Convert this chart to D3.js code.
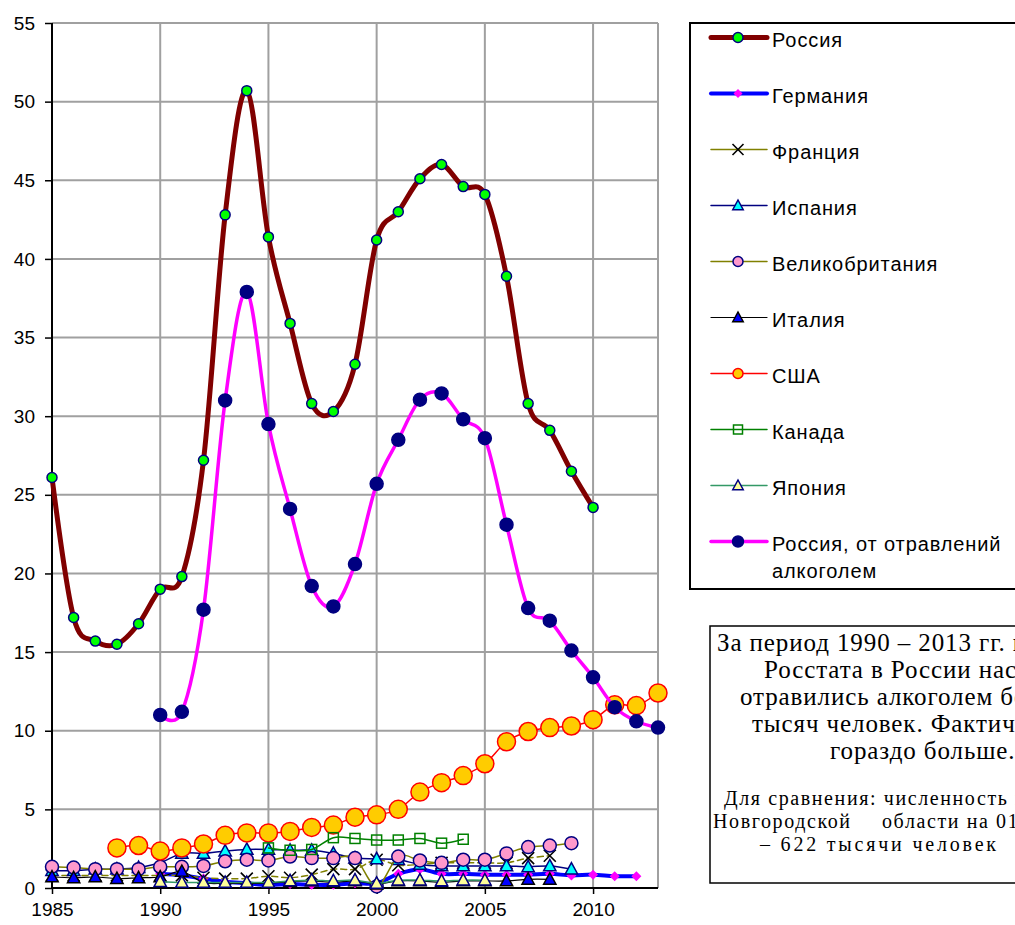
<!DOCTYPE html>
<html><head><meta charset="utf-8">
<script src="https://cdn.jsdelivr.net/npm/d3@7"></script>
<style>body{margin:0;background:#fff;overflow:hidden}</style>
</head><body><svg id="c" width="1015" height="925"></svg>
<script>
// ---------- DATA ----------
const years = [1985,1986,1987,1988,1989,1990,1991,1992,1993,1994,1995,1996,1997,1998,1999,2000,2001,2002,2003,2004,2005,2006,2007,2008,2009,2010,2011,2012,2013];
const xTickLabels = [1985,1990,1995,2000,2005,2010];
const yTickLabels = [0,5,10,15,20,25,30,35,40,45,50,55];
const seriesNames = ["Россия","Германия","Франция","Испания","Великобритания","Италия","США","Канада","Япония","Россия, от отравлений алкоголем"];

const russia  = [26.1,17.2,15.7,15.5,16.8,19.0,19.8,27.2,42.8,50.7,41.4,35.9,30.8,30.3,33.3,41.2,43.0,45.1,46.0,44.6,44.1,38.9,30.8,29.1,26.5,24.2,null,null,null];
const germany = [null,null,null,null,null,0.9,0.8,0.6,0.4,0.3,0.2,0.25,0.2,0.2,0.3,0.3,0.9,1.2,0.9,0.9,0.85,0.85,0.85,0.9,0.8,0.85,0.75,0.75,null];
const france  = [0.8,0.8,0.8,0.8,0.8,0.8,0.8,0.65,0.6,0.6,0.75,0.65,0.85,1.2,1.2,1.8,1.45,1.5,1.6,1.6,1.6,1.6,1.9,2.05,null,null,null,null,null];
const spain   = [1.1,1.1,1.2,1.2,1.3,1.6,2.2,2.2,2.35,2.45,2.45,2.4,2.4,2.2,1.9,1.85,1.8,1.5,1.4,1.4,1.4,1.4,1.35,1.4,1.2,null,null,null,null];
const uk      = [1.35,1.3,1.2,1.2,1.2,1.35,1.35,1.4,1.7,1.8,1.75,2.0,1.9,1.9,1.9,0.1,2.0,1.75,1.6,1.8,1.8,2.2,2.6,2.7,2.85,null,null,null,null];
const italy   = [0.7,0.65,0.7,0.6,0.65,0.7,1.05,0.35,0.3,0.3,0.3,0.4,0.45,0.35,0.45,0.25,0.45,0.45,0.35,0.45,0.45,0.45,0.55,0.55,null,null,null,null,null];
const usa     = [null,null,null,2.55,2.7,2.35,2.55,2.8,3.35,3.5,3.5,3.6,3.85,4.0,4.5,4.65,5.0,6.1,6.7,7.15,7.9,9.3,9.95,10.2,10.3,10.7,11.65,11.6,12.4];
const canada  = [null,null,null,null,null,null,null,null,null,null,2.55,2.4,2.45,3.2,3.15,3.05,3.05,3.15,2.85,3.1,null,null,null,null,null,null,null,null,null];
const japan   = [null,null,null,null,null,0.4,0.35,0.35,0.35,0.35,0.35,0.45,0.5,0.45,0.5,0.3,0.5,0.5,0.45,0.5,0.5,null,null,null,null,null,null,null,null];
const poison  = [null,null,null,null,null,11.0,11.2,17.7,31.0,37.9,29.5,24.1,19.2,17.9,20.6,25.7,28.5,31.05,31.45,29.8,28.6,23.1,17.8,17.0,15.1,13.4,11.5,10.6,10.2];

const noteLines = ["За период 1990 – 2013 гг. по данным","Росстата в России насмерть","отравились алкоголем более 400","тысяч человек. Фактически их","гораздо больше."];
const noteSmall = [["Для сравнения: численность населения"],["Новгородской","области на 01.01.2014 г."],["– 622 тысячи человек"]];

// ---------- STYLES ----------
const styles = [
  {color:"#800000", w:5,   dash:null, m:"circle",   r:5,   fill:"#00FF00", stroke:"#000080", lr:5},
  {color:"#0000FF", w:4,   dash:null, m:"diamond",  r:5,   fill:"#FF00FF", stroke:"none",    lr:4.5},
  {color:"#808000", w:1.5, dash:"6,4",m:"x",        r:6,   fill:"none",    stroke:"#000000", lr:5.5},
  {color:"#000080", w:1.5, dash:null, m:"triangle", r:6.5, fill:"#00FFFF", stroke:"#000080", lr:5.5},
  {color:"#808000", w:1.5, dash:null, m:"circle",   r:6.5, fill:"#FF99CC", stroke:"#000080", lr:5},
  {color:"#000000", w:1.2, dash:null, m:"triangle", r:6.5, fill:"#0000FF", stroke:"#000000", lr:5.5},
  {color:"#FF0000", w:1.5, dash:null, m:"circle",   r:9,   fill:"#FFCC00", stroke:"#FF0000", lr:5},
  {color:"#008000", w:1.5, dash:null, m:"square",   r:5,   fill:"none",    stroke:"#008000", lr:4.5},
  {color:"#339966", w:1.5, dash:null, m:"triangle", r:6.5, fill:"#FFFF99", stroke:"#000080", lr:5.5},
  {color:"#FF00FF", w:3.5, dash:null, m:"circle",   r:6.5, fill:"#000080", stroke:"#000080", lr:5.5}
];
const allSeries = [russia,germany,france,spain,uk,italy,usa,canada,japan,poison];

// ---------- CHART ----------
const svg = d3.select("#c");
const x = d3.scaleLinear().domain([1985,2013]).range([52,658]);
const y = d3.scaleLinear().domain([0,55]).range([888,23]);
const sans = "Arial, 'Liberation Sans', sans-serif";
const serif = "'Times New Roman', 'Liberation Serif', serif";

// gridlines
const g = svg.append("g");
g.selectAll(".hg").data(yTickLabels.filter(d=>d>0)).enter().append("line")
  .attr("x1",x(1985)).attr("x2",x(2013)).attr("y1",d=>y(d)).attr("y2",d=>y(d))
  .attr("stroke","#a0a0a0").attr("stroke-width",2);
g.selectAll(".vg").data([1990,1995,2000,2005,2010,2013]).enter().append("line")
  .attr("y1",y(0)).attr("y2",y(55)).attr("x1",d=>x(d)).attr("x2",d=>x(d))
  .attr("stroke","#a0a0a0").attr("stroke-width",2);

// axes
const yAxis = d3.axisLeft(y).tickValues(yTickLabels).tickSize(7).tickPadding(10).tickFormat(d3.format("d"));
const ya = svg.append("g").attr("transform",`translate(${x(1985)},0)`).call(yAxis);
const xAxis = d3.axisBottom(x).tickValues(xTickLabels).tickSize(6).tickPadding(4).tickFormat(d3.format("d"));
const xa = svg.append("g").attr("transform",`translate(0,${y(0)})`).call(xAxis);
[ya,xa].forEach(a=>{
  a.select(".domain").attr("stroke","#000").attr("stroke-width",2);
  a.selectAll(".tick line").attr("stroke","#000").attr("stroke-width",1.5);
  a.selectAll("text").attr("font-family",sans).attr("font-size",19).attr("fill","#000");
});
ya.select(".domain").attr("d",`M0,${y(0)}V${y(55)}`);
xa.select(".domain").attr("d",`M${x(1985)},0H${x(2013)}`);
xa.selectAll("text").attr("dy","0.95em");

// marker drawing
function marker(sel, st, r){
  let p;
  if(st.m==="circle"){
    p = sel.append("circle").attr("r",r);
  } else if(st.m==="diamond"){
    p = sel.append("path").attr("d",`M0,${-r}L${r},0L0,${r}L${-r},0Z`);
  } else if(st.m==="square"){
    p = sel.append("rect").attr("x",-r).attr("y",-r).attr("width",2*r).attr("height",2*r);
  } else if(st.m==="triangle"){
    p = sel.append("path").attr("d",`M0,${-r}L${r*0.95},${r*0.75}L${-r*0.95},${r*0.75}Z`);
  } else if(st.m==="x"){
    p = sel.append("path").attr("d",`M${-r},${-r}L${r},${r}M${r},${-r}L${-r},${r}`);
  }
  p.attr("fill",st.fill).attr("stroke",st.stroke).attr("stroke-width",st.m==="x"?1.6:1.5);
}

const line = d3.line().defined(d=>d.v!==null).x(d=>x(d.yr)).y(d=>y(d.v)).curve(d3.curveCardinal.tension(0));

allSeries.forEach((vals,i)=>{
  const st = styles[i];
  const pts = years.map((yr,j)=>({yr, v: vals[j]}));
  const sg = svg.append("g");
  sg.append("path").datum(pts).attr("d",line).attr("fill","none")
    .attr("stroke",st.color).attr("stroke-width",st.w)
    .attr("stroke-dasharray",st.dash).attr("stroke-linejoin","round").attr("stroke-linecap","round");
  sg.selectAll(".m").data(pts.filter(d=>d.v!==null)).enter().append("g")
    .attr("transform",d=>`translate(${x(d.yr)},${y(d.v)})`)
    .each(function(){ marker(d3.select(this), st, st.r); });
});

// ---------- LEGEND ----------
const lg = svg.append("g");
lg.append("rect").attr("x",690).attr("y",23).attr("width",400).attr("height",566)
  .attr("fill","#fff").attr("stroke","#000").attr("stroke-width",2);
const legY0 = 37.5, legStep = 56.0;
seriesNames.forEach((name,i)=>{
  const st = styles[i];
  const cy = legY0 + i*legStep;
  const it = lg.append("g");
  it.append("line").attr("x1",711).attr("x2",767).attr("y1",cy).attr("y2",cy)
    .attr("stroke",st.color).attr("stroke-width",st.w).attr("stroke-linecap","round");
  const mg = it.append("g").attr("transform",`translate(738,${cy})`);
  marker(mg, st, st.lr);
  const t = it.append("text").attr("x",772).attr("y",cy+9)
    .attr("font-family",sans).attr("font-size",20).attr("letter-spacing",0.9).attr("fill","#000");
  if(i===9){
    t.append("tspan").attr("x",772).text("Россия, от отравлений");
    t.append("tspan").attr("x",772).attr("dy",27).text("алкоголем");
  } else t.text(name);
});

// ---------- NOTE BOX ----------
const nb = svg.append("g");
nb.append("rect").attr("x",710).attr("y",626).attr("width",400).attr("height",257)
  .attr("fill","#fff").attr("stroke","#000").attr("stroke-width",1.5);
const bigX = [717,764,740,752,830], bigY=[651,678,705,732,759];
noteLines.forEach((s,i)=>{
  nb.append("text").attr("x",bigX[i]).attr("y",bigY[i]).attr("font-family",serif)
    .attr("font-size",25).attr("letter-spacing",0.9).attr("fill","#000").text(s);
});
const smX = [[724],[713,882],[760]], smY=[805,828,851], smLS=[1.6,1.6,2.8];
noteSmall.forEach((parts,i)=>{
  parts.forEach((s,k)=>{
    nb.append("text").attr("x",smX[i][k]).attr("y",smY[i]).attr("font-family",serif)
      .attr("font-size",20).attr("letter-spacing",smLS[i]).attr("fill","#000").text(s);
  });
});
</script></body></html>
